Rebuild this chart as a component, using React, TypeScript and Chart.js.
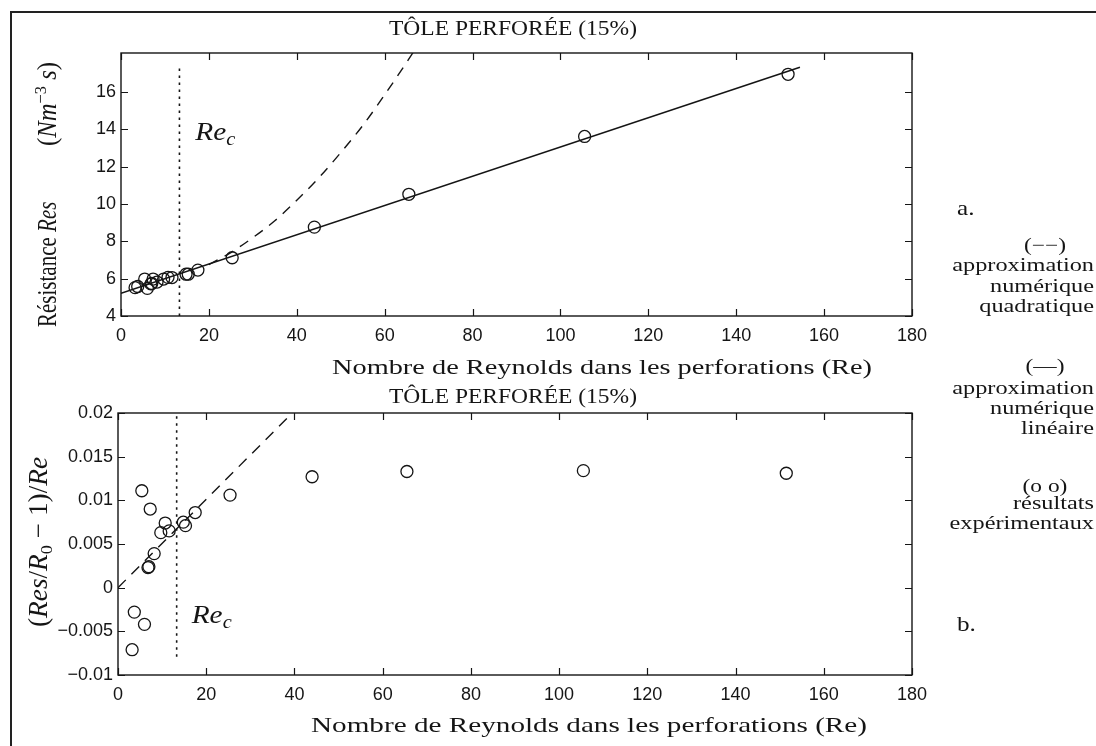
import React, { useEffect, useRef } from 'react';
import { Chart, registerables } from 'chart.js';

Chart.register(...registerables);

// ---------------- data ----------------
// (a.) résistance vs Reynolds
const RE_TOP = [3.2, 3.8, 5.4, 6.0, 6.8, 7.0, 7.3, 8.2, 9.7, 10.7, 11.6, 14.8, 15.3, 17.5, 25.3, 44.0, 65.5, 105.5, 151.8];
const RES_TOP = [5.52, 5.58, 5.98, 5.48, 5.72, 5.74, 5.98, 5.82, 5.98, 6.07, 6.06, 6.24, 6.24, 6.46, 7.12, 8.76, 10.52, 13.62, 16.95];
const LIN_FIT_RE = [0, 154.5];
const LIN_FIT_RES = [5.22, 17.33];
const QUAD_FIT_RE = [20, 25, 30, 35, 40, 45, 50, 55, 60, 66, 68];
const QUAD_FIT_RES = [6.75, 7.4, 8.2, 9.1, 10.2, 11.4, 12.75, 14.2, 15.85, 17.95, 18.7];
const REC_TOP_RE = [13.3, 13.3];
const REC_TOP_RES = [4, 17.45];

// (b.) (Res/R0 - 1)/Re vs Reynolds
const RE_BOT = [3.2, 3.7, 6.0, 5.4, 7.3, 6.8, 7.0, 8.2, 9.7, 10.7, 11.6, 14.8, 15.3, 17.5, 25.4, 44.0, 65.5, 105.5, 151.5];
const VAL_BOT = [-0.0071, -0.0028, -0.0042, 0.0111, 0.009, 0.0023, 0.0024, 0.0039, 0.0063, 0.0074, 0.0065, 0.0075, 0.0071, 0.0086, 0.0106, 0.0127, 0.0133, 0.0134, 0.0131];
const LIN_BOT_RE = [0, 40.5];
const LIN_BOT_VAL = [0, 0.0205];
const REC_BOT_RE = [13.3, 13.3];
const REC_BOT_VAL = [-0.0079, 0.02];

// ticks
const X_TICKS = [0, 20, 40, 60, 80, 100, 120, 140, 160, 180];
const Y1_TICKS = [4, 6, 8, 10, 12, 14, 16];
const Y2_TICKS = [-0.01, -0.005, 0, 0.005, 0.01, 0.015, 0.02];
const Y2_LABELS = ['\u22120.01', '\u22120.005', '0', '0.005', '0.01', '0.015', '0.02'];

// ---------------- style ----------------
const W = 1096;
const H = 746;
const INK = '#151515';
const SERIF = '"Liberation Serif", "Times New Roman", serif';
const SANS = '"Liberation Sans", Arial, Helvetica, sans-serif';

type Run = { t: string; size: number; italic?: boolean; shift?: number };

function runFont(r: Run) {
  return `${r.italic ? 'italic ' : ''}${r.size}px ${SERIF}`;
}

function drawRuns(
  ctx: CanvasRenderingContext2D,
  runs: Run[],
  x: number,
  y: number,
  o: { angle?: number; fit?: number; hScale?: number; align?: 'left' | 'center' | 'right' }
) {
  ctx.save();
  let total = 0;
  const widths = runs.map((r) => {
    ctx.font = runFont(r);
    const w = ctx.measureText(r.t).width;
    total += w;
    return w;
  });
  const sx = o.fit ? o.fit / total : 1;
  ctx.translate(x, y);
  ctx.rotate(o.angle || 0);
  ctx.scale(sx, o.hScale || 1);
  let cx = 0;
  if (o.align === 'center') cx = -total / 2;
  else if (o.align === 'right') cx = -total;
  ctx.fillStyle = INK;
  ctx.textBaseline = 'alphabetic';
  ctx.textAlign = 'left';
  runs.forEach((r, i) => {
    ctx.font = runFont(r);
    ctx.fillText(r.t, cx, r.shift || 0);
    cx += widths[i];
  });
  ctx.restore();
}

function pts(xs: number[], ys: number[]) {
  return xs.map((x, i) => ({ x, y: ys[i] }));
}

type Deco = {
  title: { x: number; base: number; fit: number };
  xTitle: { x: number; base: number; fit: number };
  yTitle: (ctx: CanvasRenderingContext2D) => void;
  rec: { x: number; y: number };
};

function decoPlugin(id: string, d: Deco) {
  return {
    id,
    afterDraw(chart: any) {
      const { ctx, chartArea: a, scales } = chart;
      ctx.save();
      ctx.strokeStyle = INK;
      ctx.lineWidth = 1.4;
      ctx.strokeRect(a.left, a.top, a.right - a.left, a.bottom - a.top);
      const L = 7;
      ctx.beginPath();
      for (const t of scales.x.ticks) {
        const px = Math.round(scales.x.getPixelForValue(t.value)) + 0.5;
        ctx.moveTo(px, a.bottom);
        ctx.lineTo(px, a.bottom - L);
        ctx.moveTo(px, a.top);
        ctx.lineTo(px, a.top + L);
      }
      for (const t of scales.y.ticks) {
        const py = Math.round(scales.y.getPixelForValue(t.value)) + 0.5;
        ctx.moveTo(a.left, py);
        ctx.lineTo(a.left + L, py);
        ctx.moveTo(a.right, py);
        ctx.lineTo(a.right - L, py);
      }
      ctx.lineWidth = 1.2;
      ctx.stroke();
      ctx.restore();

      drawRuns(ctx, [{ t: 'TÔLE PERFORÉE (15%)', size: 20 }], d.title.x, d.title.base, { align: 'center', fit: d.title.fit });
      drawRuns(ctx, [{ t: 'Nombre de Reynolds dans les perforations (Re)', size: 22 }], d.xTitle.x, d.xTitle.base, {
        align: 'center',
        fit: d.xTitle.fit,
      });
      d.yTitle(ctx);
      const rx = scales.x.getPixelForValue(d.rec.x);
      const ry = scales.y.getPixelForValue(d.rec.y);
      drawRuns(ctx, [{ t: 'Re', size: 26, italic: true }, { t: 'c', size: 18, italic: true, shift: 5 }], rx, ry, { fit: 40 });
    },
  };
}

function scaleX() {
  return {
    type: 'linear' as const,
    min: 0,
    max: 180,
    afterBuildTicks: (s: any) => {
      s.ticks = X_TICKS.map((v) => ({ value: v }));
    },
    afterFit: (s: any) => {
      s.height = 40;
    },
    grid: { display: false, drawTicks: false },
    border: { display: false },
    ticks: { padding: 9, color: INK, font: { family: SANS, size: 18 }, maxRotation: 0, autoSkip: false },
  };
}

function lineDs(data: any[], dash: number[], width = 1.5, mono = false) {
  return {
    type: 'line' as const,
    data,
    borderColor: INK,
    borderWidth: width,
    borderDash: dash,
    pointRadius: 0,
    fill: false,
    tension: 0,
    cubicInterpolationMode: mono ? ('monotone' as const) : ('default' as const),
  };
}

function circlesDs(data: any[]) {
  return {
    type: 'scatter' as const,
    data,
    showLine: false,
    pointStyle: 'circle' as const,
    pointRadius: 6,
    pointBorderWidth: 1.3,
    pointBorderColor: INK,
    pointBackgroundColor: 'rgba(0,0,0,0)',
  };
}

const common = {
  responsive: false,
  maintainAspectRatio: false,
  animation: false as const,
  events: [] as any[],
  devicePixelRatio: 1,
};

function config1(): any {
  return {
    type: 'scatter',
    data: {
      datasets: [
        lineDs(pts(REC_TOP_RE, REC_TOP_RES), [2.5, 4.5], 1.6),
        lineDs(pts(QUAD_FIT_RE, QUAD_FIT_RES), [10, 8], 1.4, true),
        lineDs(pts(LIN_FIT_RE, LIN_FIT_RES), [], 1.6),
        circlesDs(pts(RE_TOP, RES_TOP)),
      ],
    },
    options: {
      ...common,
      layout: { padding: { left: 0, top: 53, right: W - 912, bottom: H - 316 - 40 } },
      plugins: { legend: { display: false }, tooltip: { enabled: false }, title: { display: false } },
      scales: {
        x: scaleX(),
        y: {
          type: 'linear',
          min: 4,
          max: 18.09,
          afterBuildTicks: (s: any) => {
            s.ticks = Y1_TICKS.map((v) => ({ value: v }));
          },
          afterFit: (s: any) => {
            s.width = 121;
          },
          grid: { display: false, drawTicks: false },
          border: { display: false },
          ticks: { padding: 5, color: INK, font: { family: SANS, size: 18 } },
        },
      },
    },
    plugins: [
      decoPlugin('deco1', {
        title: { x: 513, base: 35, fit: 248 },
        xTitle: { x: 602, base: 374, fit: 540 },
        rec: { x: 16.9, y: 13.42 },
        yTitle: (ctx) => {
          drawRuns(
            ctx,
            [
              { t: 'Résistance ', size: 21 },
              { t: 'Res', size: 21, italic: true },
            ],
            56,
            327,
            { angle: -Math.PI / 2, hScale: 1.25 }
          );
          drawRuns(
            ctx,
            [
              { t: '(', size: 21 },
              { t: 'Nm', size: 21, italic: true },
              { t: '\u22123', size: 14, shift: -8 },
              { t: ' s', size: 21, italic: true },
              { t: ')', size: 21 },
            ],
            56,
            146,
            { angle: -Math.PI / 2, hScale: 1.25, fit: 84 }
          );
        },
      }),
    ],
  };
}

function config2(): any {
  return {
    type: 'scatter',
    data: {
      datasets: [
        lineDs(pts(REC_BOT_RE, REC_BOT_VAL), [2.5, 4.5], 1.6),
        lineDs(pts(LIN_BOT_RE, LIN_BOT_VAL), [11, 8], 1.4),
        circlesDs(pts(RE_BOT, VAL_BOT)),
      ],
    },
    options: {
      ...common,
      layout: { padding: { left: 0, top: 413, right: W - 912, bottom: H - 675 - 40 } },
      plugins: { legend: { display: false }, tooltip: { enabled: false }, title: { display: false } },
      scales: {
        x: scaleX(),
        y: {
          type: 'linear',
          min: -0.01,
          max: 0.02,
          afterBuildTicks: (s: any) => {
            s.ticks = Y2_TICKS.map((v) => ({ value: v }));
          },
          afterFit: (s: any) => {
            s.width = 118;
          },
          grid: { display: false, drawTicks: false },
          border: { display: false },
          ticks: {
            padding: 5,
            color: INK,
            font: { family: SANS, size: 18 },
            callback: (_v: any, i: number) => Y2_LABELS[i],
          },
        },
      },
    },
    plugins: [
      decoPlugin('deco2', {
        title: { x: 513, base: 403, fit: 248 },
        xTitle: { x: 589, base: 732, fit: 556 },
        rec: { x: 16.7, y: -0.004 },
        yTitle: (ctx) => {
          drawRuns(
            ctx,
            [
              { t: '(', size: 21 },
              { t: 'Res', size: 21, italic: true },
              { t: '/', size: 21 },
              { t: 'R', size: 21, italic: true },
              { t: '0', size: 14, shift: 4 },
              { t: ' \u2212 1)/', size: 21 },
              { t: 'Re', size: 21, italic: true },
            ],
            47,
            627,
            { angle: -Math.PI / 2, hScale: 1.25, fit: 170 }
          );
        },
      }),
    ],
  };
}

// ---------------- right-hand notes ----------------
const NOTE_HEADS = ['(\u2212\u2212)', '(\u2014)', '(o o)'];
const NOTE_HEAD_Y = [247, 368, 488];
const NOTE_LINES = [
  ['approximation', 'numérique', 'quadratique'],
  ['approximation', 'numérique', 'linéaire'],
  ['résultats', 'expérimentaux'],
];
const NOTE_LINE_Y = [
  [267, 288, 308],
  [390, 410, 430],
  [505, 525],
];

const noteBase: React.CSSProperties = {
  position: 'absolute',
  fontFamily: SERIF,
  fontSize: 18,
  lineHeight: '24px',
  height: 24,
  whiteSpace: 'nowrap',
  color: INK,
};

export default function App() {
  const c1 = useRef<HTMLCanvasElement>(null);
  const c2 = useRef<HTMLCanvasElement>(null);

  useEffect(() => {
    const ch1 = new Chart(c1.current as HTMLCanvasElement, config1());
    const ch2 = new Chart(c2.current as HTMLCanvasElement, config2());
    return () => {
      ch1.destroy();
      ch2.destroy();
    };
  }, []);

  return (
    <div style={{ position: 'absolute', left: 0, top: 0, width: W, height: H, background: '#fff', overflow: 'hidden' }}>
      <canvas ref={c1} width={W} height={H} style={{ position: 'absolute', left: 0, top: 0, width: W, height: H }} />
      <canvas ref={c2} width={W} height={H} style={{ position: 'absolute', left: 0, top: 0, width: W, height: H }} />
      <div style={{ position: 'absolute', left: 10, top: 11, width: W - 10, height: 2, background: '#222' }} />
      <div style={{ position: 'absolute', left: 10, top: 11, width: 2, height: H - 11, background: '#222' }} />
      <div style={{ ...noteBase, left: 957, top: 196, fontSize: 21, transform: 'scaleX(1.2)', transformOrigin: 'left center' }}>a.</div>
      <div style={{ ...noteBase, left: 957, top: 612, fontSize: 21, transform: 'scaleX(1.2)', transformOrigin: 'left center' }}>b.</div>
      {NOTE_HEADS.map((h, i) => (
        <React.Fragment key={h}>
          <div
            style={{
              ...noteBase,
              left: 995,
              width: 100,
              textAlign: 'center',
              top: NOTE_HEAD_Y[i] - 14,
              transform: 'scaleX(1.3)',
              transformOrigin: 'center center',
            }}
          >
            {h}
          </div>
          {NOTE_LINES[i].map((t, j) => (
            <div
              key={t + j}
              style={{
                ...noteBase,
                right: 2,
                top: NOTE_LINE_Y[i][j] - 14,
                transform: 'scaleX(1.35)',
                transformOrigin: 'right center',
              }}
            >
              {t}
            </div>
          ))}
        </React.Fragment>
      ))}
    </div>
  );
}
